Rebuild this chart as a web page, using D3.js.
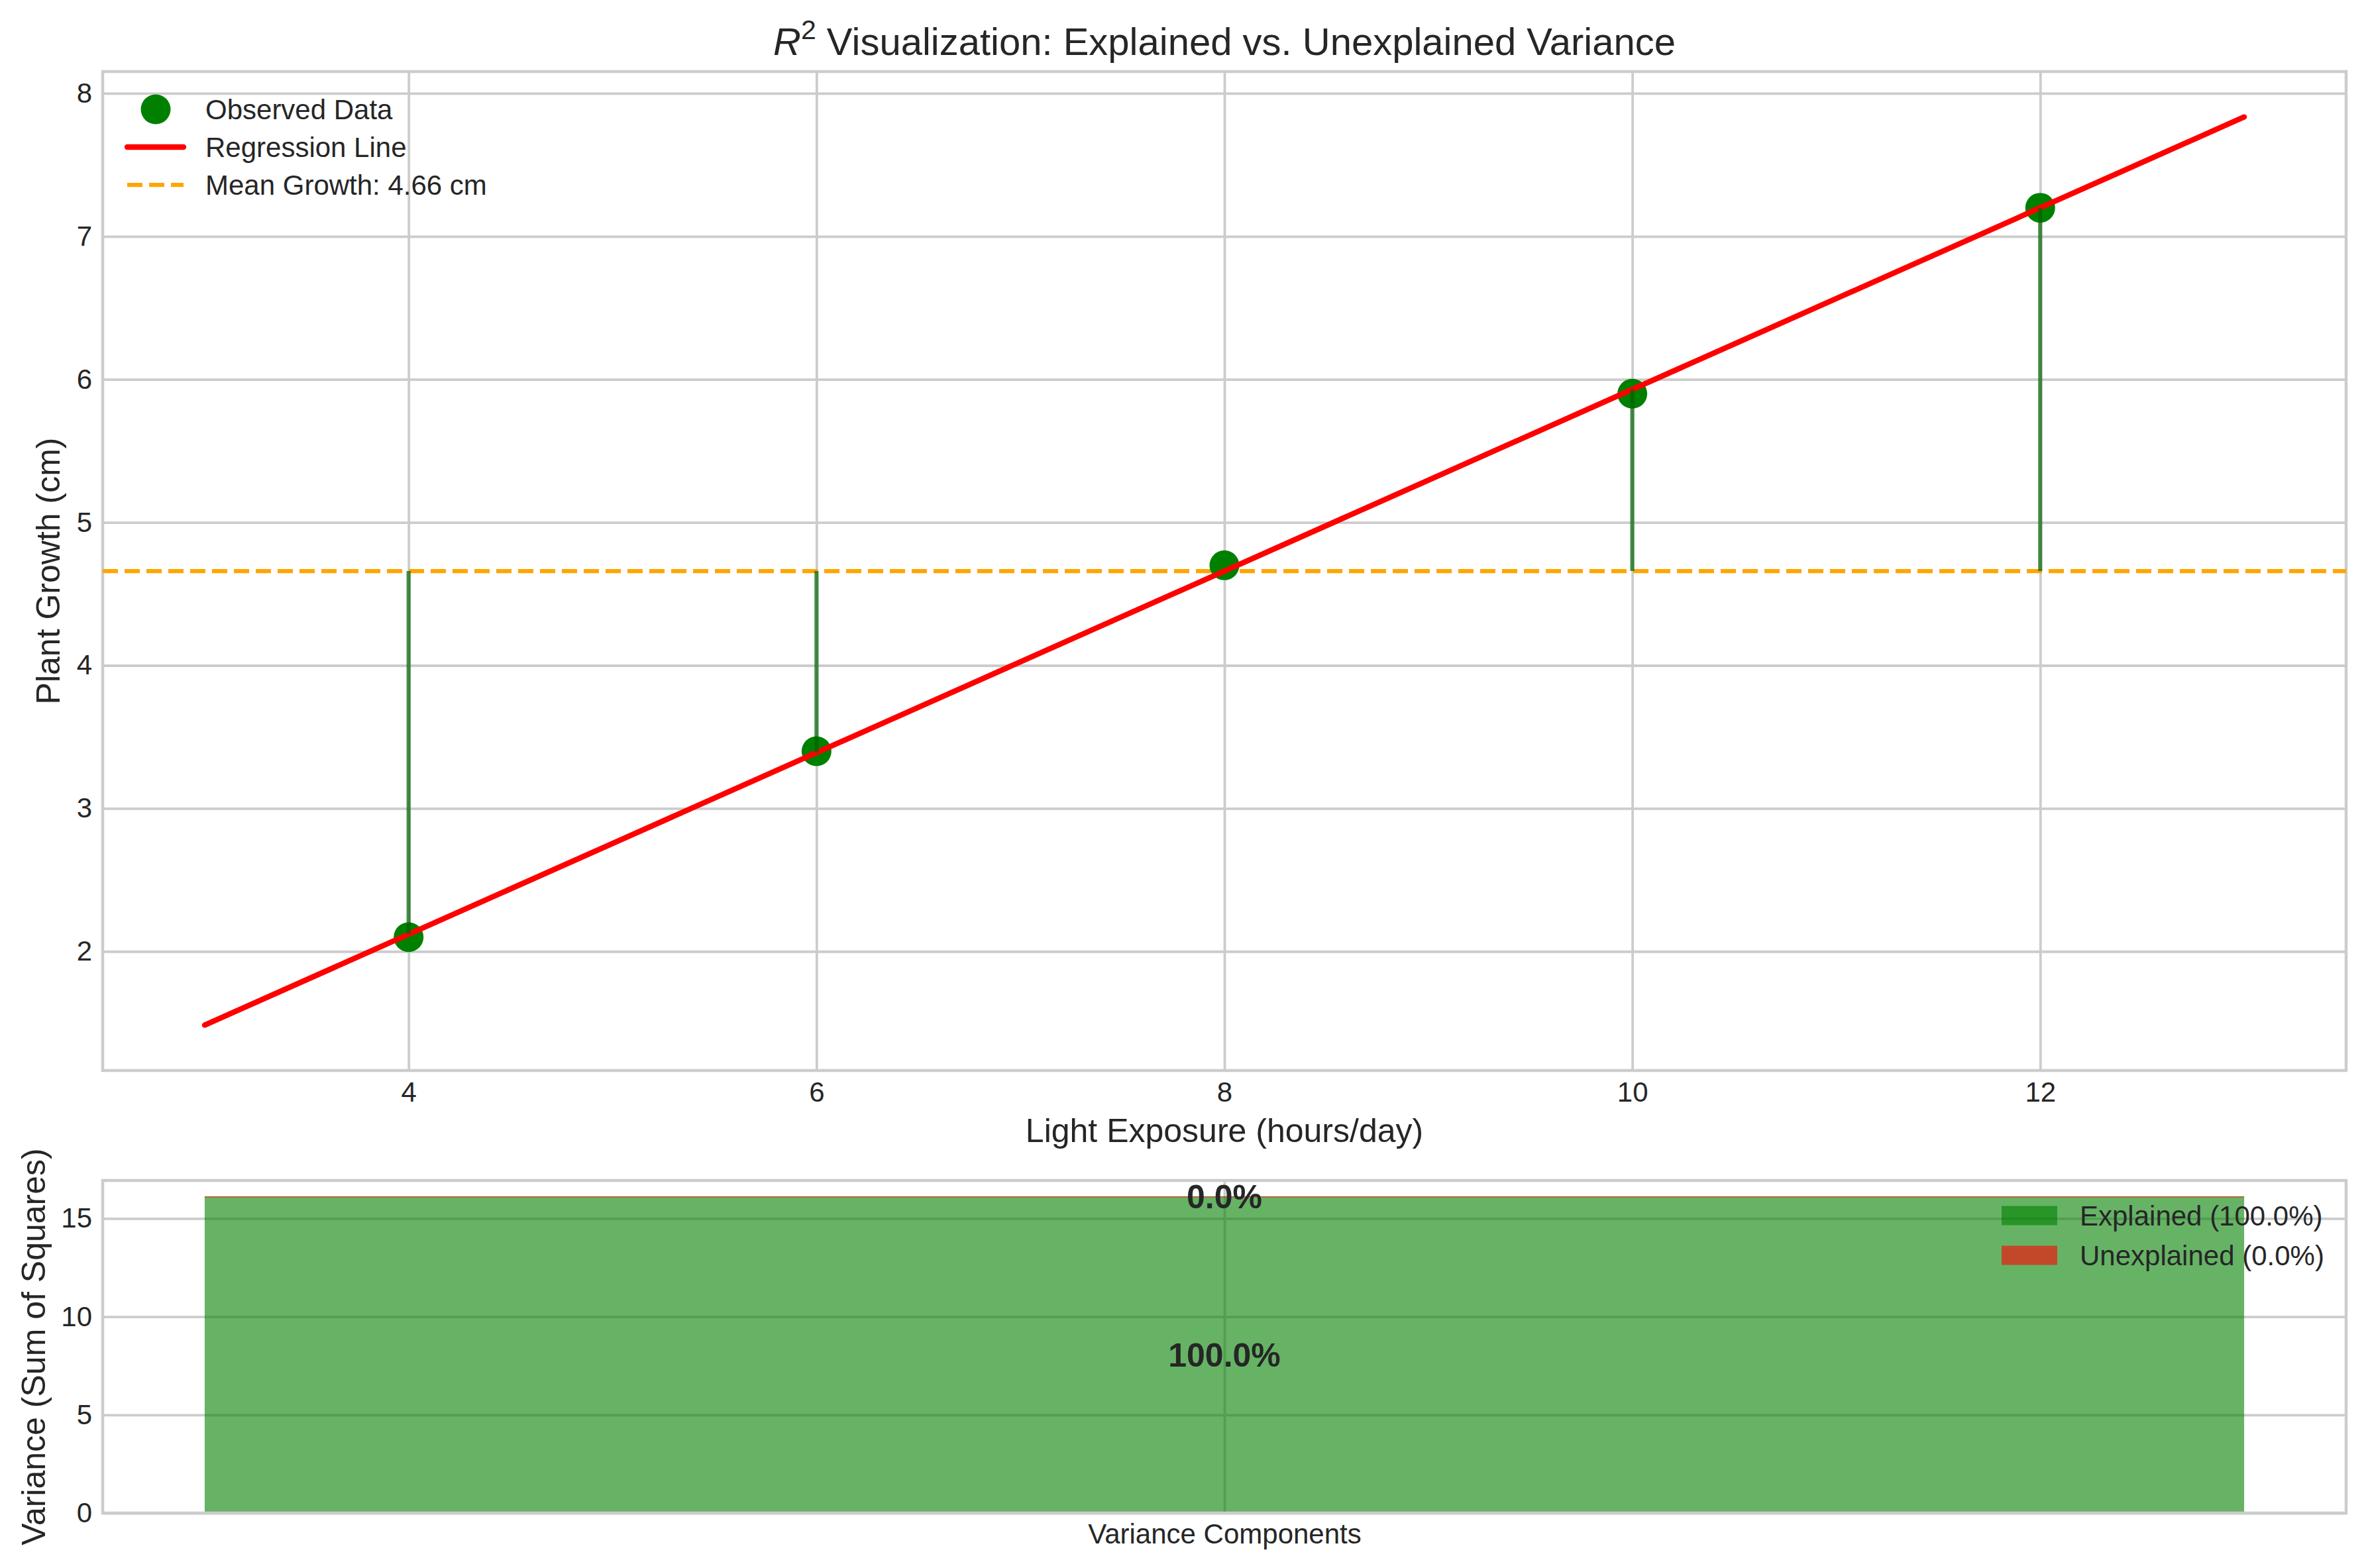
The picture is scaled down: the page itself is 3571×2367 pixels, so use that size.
<!DOCTYPE html>
<html>
<head>
<meta charset="utf-8">
<script src="https://cdn.jsdelivr.net/npm/d3@7"></script>
<style>
body{margin:0;background:#fff;}
svg text{font-family:"Liberation Sans",Arial,sans-serif;fill:#262626;}
</style>
</head>
<body>
<div id="chart"></div>
<script>
// observed data
var lightHours=[4,6,8,10,12];
var plantGrowth=[2.1,3.4,4.7,5.9,7.2];
var predictedGrowth=[2.12,3.39,4.66,5.93,7.20];
var meanGrowth=4.66;
// regression line ends
var fitX=[3,13];
var fitY=[1.485,7.835];
// variance components
var components=["Explained","Unexplained"];
var sumSquares=[16.129,0.003];
var xTicks=[4,6,8,10,12];
var yTicks=[2,3,4,5,6,7,8];
var varTicks=[0,5,10,15];

var W=3571,H=2367;
var svg=d3.select("#chart").append("svg")
	.attr("width",W).attr("height",H);

var L=155,R=3541;
var top1=108,bot1=1616;
var top2=1782,bot2=2284;

// top panel scales
var x=d3.scaleLinear().domain([2.5,13.5]).range([L,R]);
var y=d3.scaleLinear().domain([1.1675,8.1525]).range([bot1,top1]);

var g1=svg.append("g");
var xAxis=g1.append("g").attr("transform","translate(0,"+bot1+")")
	.call(d3.axisBottom(x).tickValues(xTicks).tickFormat(d3.format("d"))
		.tickSizeInner(-(bot1-top1)).tickSizeOuter(0).tickPadding(17));
var yAxis=g1.append("g").attr("transform","translate("+L+",0)")
	.call(d3.axisLeft(y).tickValues(yTicks).tickFormat(d3.format("d"))
		.tickSizeInner(-(R-L)).tickSizeOuter(0).tickPadding(16));
[xAxis,yAxis].forEach(function(a){
	a.select(".domain").remove();
	a.selectAll(".tick line").attr("stroke","#cccccc").attr("stroke-width",3.8);
	a.selectAll(".tick text").attr("font-size",42).attr("fill","#262626")
		.style("font-family","Liberation Sans, Arial, sans-serif");
});
g1.append("rect").attr("x",L).attr("y",top1).attr("width",R-L).attr("height",bot1-top1)
	.attr("fill","none").attr("stroke","#cccccc").attr("stroke-width",4.5);

// mean line
g1.append("line").attr("x1",L).attr("x2",R).attr("y1",y(meanGrowth)).attr("y2",y(meanGrowth))
	.attr("stroke","#FFA500").attr("stroke-width",6.25).attr("stroke-dasharray","23,10");

// observed points
g1.selectAll(".pt").data(lightHours).enter().append("circle")
	.attr("cx",function(d){return x(d);})
	.attr("cy",function(d,i){return y(plantGrowth[i]);})
	.attr("r",22.5).attr("fill","#008000");

// regression line
g1.append("path").datum(fitX)
	.attr("d",d3.line().x(function(d){return x(d);}).y(function(d,i){return y(fitY[i]);}))
	.attr("stroke","#ff0000").attr("stroke-width",8.3).attr("fill","none").attr("stroke-linecap","round");

// explained deviations
g1.selectAll(".dev").data(lightHours).enter().append("line")
	.attr("x1",function(d){return x(d);}).attr("x2",function(d){return x(d);})
	.attr("y1",y(meanGrowth))
	.attr("y2",function(d,i){return y(predictedGrowth[i]);})
	.attr("stroke","#006400").attr("stroke-opacity",0.7).attr("stroke-width",6.25);

// title
var title=svg.append("text").attr("x",(L+R)/2).attr("y",83).attr("text-anchor","middle").attr("font-size",58);
title.append("tspan").attr("font-style","italic").text("R");
title.append("tspan").attr("font-size",41).attr("dy",-24).text("2");
title.append("tspan").attr("dy",24).text(" Visualization: Explained vs. Unexplained Variance");

svg.append("text").attr("x",(L+R)/2).attr("y",1724).attr("text-anchor","middle")
	.attr("font-size",50).text("Light Exposure (hours/day)");
svg.append("text").attr("transform","translate(90,"+((top1+bot1)/2)+") rotate(-90)")
	.attr("text-anchor","middle").attr("font-size",50).text("Plant Growth (cm)");

// top legend
var leg1=svg.append("g");
leg1.append("circle").attr("cx",235).attr("cy",165).attr("r",22.5).attr("fill","#008000");
leg1.append("line").attr("x1",192).attr("x2",277).attr("y1",222).attr("y2",222)
	.attr("stroke","#ff0000").attr("stroke-width",8.3).attr("stroke-linecap","round");
leg1.append("line").attr("x1",192).attr("x2",277).attr("y1",279).attr("y2",279)
	.attr("stroke","#FFA500").attr("stroke-width",6.25).attr("stroke-dasharray","23,10");
["Observed Data","Regression Line","Mean Growth: "+meanGrowth.toFixed(2)+" cm"].forEach(function(t,i){
	leg1.append("text").attr("x",310).attr("y",[165,222,279][i]+15).attr("font-size",42).text(t);
});

// bottom panel
var total=d3.sum(sumSquares);
var xb=d3.scaleLinear().domain([-0.44,0.44]).range([L,R]);
var yb=d3.scaleLinear().domain([0,total*1.05]).range([bot2,top2]);
var g2=svg.append("g");
var xbAxis=g2.append("g").attr("transform","translate(0,"+bot2+")")
	.call(d3.axisBottom(xb).tickValues([0]).tickFormat(function(){return "Variance Components";})
		.tickSizeInner(-(bot2-top2)).tickSizeOuter(0).tickPadding(16));
var ybAxis=g2.append("g").attr("transform","translate("+L+",0)")
	.call(d3.axisLeft(yb).tickValues(varTicks).tickFormat(d3.format("d"))
		.tickSizeInner(-(R-L)).tickSizeOuter(0).tickPadding(16));
[xbAxis,ybAxis].forEach(function(a){
	a.select(".domain").remove();
	a.selectAll(".tick line").attr("stroke","#cccccc").attr("stroke-width",3.8);
	a.selectAll(".tick text").attr("font-size",42).attr("fill","#262626")
		.style("font-family","Liberation Sans, Arial, sans-serif");
});

var colors=["#008000","#ff0000"];
var stack=d3.cumsum(sumSquares);
g2.selectAll(".bar").data(sumSquares).enter().append("rect")
	.attr("x",xb(-0.4)).attr("width",xb(0.4)-xb(-0.4))
	.attr("y",function(d,i){return yb(stack[i]);})
	.attr("height",function(d,i){return Math.max(1.5,yb(stack[i]-d)-yb(stack[i]));})
	.attr("fill",function(d,i){return colors[i];}).attr("fill-opacity",0.6);

g2.selectAll(".pct").data(sumSquares).enter().append("text")
	.attr("x",xb(0))
	.attr("y",function(d,i){return yb(stack[i]-d/2);})
	.attr("dy","0.36em")
	.attr("text-anchor","middle").attr("font-size",50).attr("font-weight","bold")
	.text(function(d){return (d/total*100).toFixed(1)+"%";});

g2.append("rect").attr("x",L).attr("y",top2).attr("width",R-L).attr("height",bot2-top2)
	.attr("fill","none").attr("stroke","#cccccc").attr("stroke-width",4.5);

svg.append("text").attr("transform","translate(68,"+((top2+bot2)/2)+") rotate(-90)")
	.attr("text-anchor","middle").attr("font-size",50).text("Variance (Sum of Squares)");

// bottom legend
var leg2=svg.append("g");
components.forEach(function(c,i){
	var cy=[1835,1895][i];
	leg2.append("rect").attr("x",3021).attr("y",cy-14.5).attr("width",84).attr("height",29)
		.attr("fill",colors[i]).attr("fill-opacity",0.6);
	leg2.append("text").attr("x",3139).attr("y",cy+15).attr("font-size",42)
		.text(c+" ("+(sumSquares[i]/total*100).toFixed(1)+"%)");
});
</script>
</body>
</html>
